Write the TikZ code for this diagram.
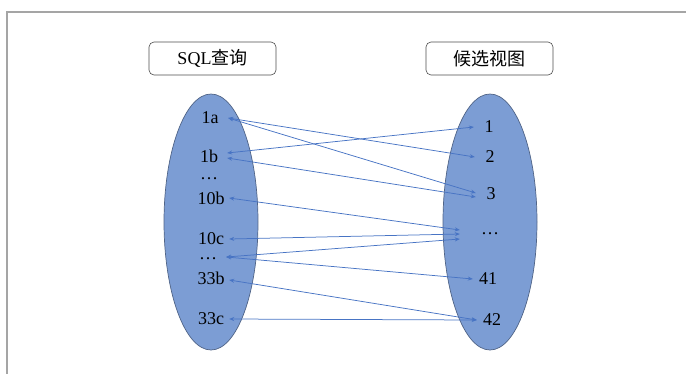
\documentclass[tikz,border=0pt]{standalone}
\usepackage{fontspec}
\setmainfont{Liberation Serif}
\newfontfamily\cjk{Noto Sans CJK SC}
\usetikzlibrary{arrows.meta,shapes.geometric}
\definecolor{ellfill}{RGB}{124,157,212}
\definecolor{elldraw}{RGB}{80,100,135}
\definecolor{linkc}{RGB}{72,116,196}
\definecolor{framec}{RGB}{165,165,165}
\begin{document}
\begin{tikzpicture}[x=1pt,y=-1pt,
  titlebox/.style={draw=black!70, rounded corners=5pt, minimum width=127pt, minimum height=33pt, inner sep=0pt, font=\fontsize{18}{20}\selectfont, line width=0.6pt},
  setell/.style={ellipse, draw=elldraw, fill=ellfill, line width=0.7pt, minimum width=94pt, minimum height=256pt, inner sep=0pt},
  lbl/.style={inner sep=0pt, minimum width=36pt, font=\fontsize{18}{20}\selectfont},
  rlbl/.style={lbl, minimum width=30pt},
  link/.style={draw=linkc, line width=0.75pt, {Stealth[length=5pt,width=4pt]}-{Stealth[length=5pt,width=4pt]}}]
\useasboundingbox (0,0) rectangle (686,373);
\draw[framec, line width=1.5pt] (7,374) -- (7,12) -- (687,12);
\node[titlebox] (tq) at (212.5,58.5) {SQL{\cjk 查询}};
\node[titlebox] (tv) at (489.5,58.5) {{\cjk 候选视图}};
\node[setell] (lset) at (211,222) {};
\node[setell] (rset) at (490,222) {};
% left labels
\node[lbl] (n1a) at (210,118) {1a};
\node[lbl] (n1b) at (209,156) {1b};
\node[lbl] (ldots1) at (209,179) {…};
\node[lbl] (n10b) at (211,198) {10b};
\node[lbl] (n10c) at (211,239) {10c};
\node[lbl] (ld) at (208,259) {…};
\node[lbl] (n33b) at (211,278) {33b};
\node[lbl] (n33c) at (211,319) {33c};
% right labels
\node[rlbl] (r1) at (489,127) {1};
\node[rlbl] (r2) at (490,157) {2};
\node[rlbl] (r3) at (491,194) {3};
\node[rlbl, minimum width=60pt] (rd) at (490,234) {…};
\node[rlbl] (r41) at (488,279) {41};
\node[rlbl] (r42) at (492,320) {42};
% links
\draw[link] (n1a.east) -- (r2.west);
\draw[link] (n1a.east) -- ([yshift=1pt]r3.west);
\draw[link] ([yshift=3pt]n1b.east) -- (r1.west);
\draw[link] ([yshift=-2pt]n1b.east) -- ([yshift=-3pt]r3.west);
\draw[link] (n10b.east) -- ([yshift=4pt]rd.west);
\draw[link] (n10c.east) -- (rd.west);
\draw[link] ([yshift=2pt]ld.east) -- ([yshift=-5pt]rd.west);
\draw[link] ([yshift=2pt]ld.east) -- (r41.west);
\draw[link] ([yshift=-2pt]n33b.east) -- (r42.west);
\draw[link] (n33c.east) -- (r42.west);
\end{tikzpicture}
\end{document}
